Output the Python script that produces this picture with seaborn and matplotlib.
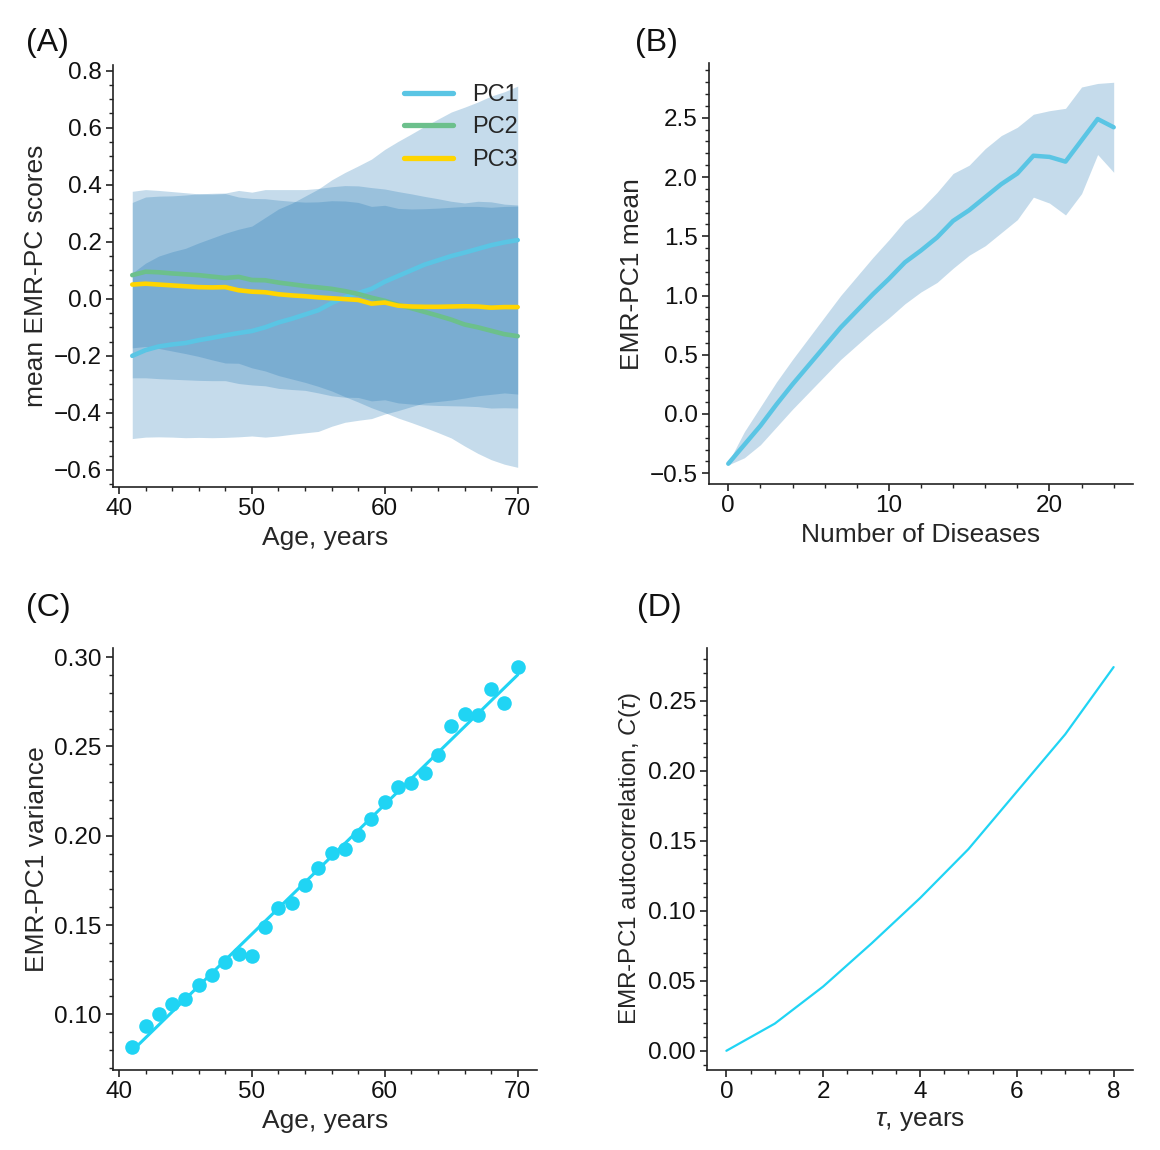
import numpy as np
import pandas as pd
import matplotlib
matplotlib.use("Agg")
import matplotlib.pyplot as plt
import seaborn as sns
from matplotlib.ticker import AutoMinorLocator, MultipleLocator

# ---- data ----
ages = list(range(41, 71))

pc1_mean = [-0.200, -0.180, -0.167, -0.160, -0.155, -0.145, -0.137, -0.128, -0.120, -0.113,
            -0.100, -0.083, -0.070, -0.055, -0.040, -0.015, 0.005, 0.020, 0.035, 0.060,
            0.080, 0.100, 0.120, 0.135, 0.150, 0.162, 0.175, 0.188, 0.198, 0.206]
pc1_sd = [0.290, 0.305, 0.317, 0.325, 0.332, 0.341, 0.350, 0.358, 0.364, 0.368,
          0.385, 0.398, 0.405, 0.415, 0.425, 0.432, 0.438, 0.446, 0.455, 0.464,
          0.472, 0.478, 0.485, 0.495, 0.505, 0.510, 0.515, 0.523, 0.528, 0.540]

pc2_mean = [0.083, 0.095, 0.093, 0.089, 0.086, 0.083, 0.078, 0.073, 0.077, 0.066,
            0.065, 0.057, 0.051, 0.045, 0.040, 0.035, 0.027, 0.017, 0.004, -0.007,
            -0.021, -0.033, -0.046, -0.059, -0.073, -0.090, -0.100, -0.112, -0.124, -0.131]
pc2_sd = [0.255, 0.262, 0.267, 0.272, 0.278, 0.285, 0.292, 0.298, 0.303, 0.308,
          0.318, 0.326, 0.332, 0.338, 0.347, 0.358, 0.370, 0.379, 0.386, 0.392,
          0.397, 0.401, 0.405, 0.410, 0.415, 0.426, 0.442, 0.452, 0.456, 0.460]

pc3_mean = [0.050, 0.053, 0.050, 0.047, 0.044, 0.041, 0.040, 0.041, 0.030, 0.025,
            0.023, 0.016, 0.012, 0.009, 0.005, 0.002, -0.001, -0.004, -0.017, -0.013,
            -0.024, -0.027, -0.028, -0.028, -0.027, -0.026, -0.027, -0.031, -0.029, -0.029]
pc3_sd = [0.327, 0.330, 0.330, 0.329, 0.328, 0.327, 0.327, 0.328, 0.327, 0.327,
          0.328, 0.330, 0.330, 0.330, 0.335, 0.342, 0.344, 0.342, 0.341, 0.341,
          0.341, 0.342, 0.344, 0.346, 0.348, 0.350, 0.351, 0.352, 0.353, 0.354]

n_diseases = list(range(0, 25))
pc1_by_disease = [-0.42, -0.26, -0.10, 0.08, 0.25, 0.41, 0.57, 0.73, 0.87, 1.01,
                  1.14, 1.28, 1.38, 1.49, 1.63, 1.72, 1.83, 1.94, 2.03, 2.18,
                  2.17, 2.13, 2.31, 2.49, 2.42]
pc1_by_disease_sd = [0.01, 0.11, 0.16, 0.19, 0.21, 0.23, 0.25, 0.27, 0.29, 0.31,
                     0.33, 0.35, 0.35, 0.38, 0.40, 0.38, 0.41, 0.41, 0.39, 0.35,
                     0.39, 0.45, 0.45, 0.30, 0.38]

pc1_var = [0.0816, 0.0936, 0.1002, 0.1056, 0.1086, 0.1166, 0.1220, 0.1291, 0.1337, 0.1327,
           0.1491, 0.1597, 0.1623, 0.1725, 0.1818, 0.1904, 0.1924, 0.2004, 0.2092, 0.2188,
           0.2273, 0.2293, 0.2353, 0.2453, 0.2613, 0.2679, 0.2675, 0.2820, 0.2743, 0.2944]

tau = [0, 1, 2, 3, 4, 5, 6, 7, 8]
autocorr = [0.0, 0.0194, 0.0459, 0.0767, 0.109, 0.144, 0.185, 0.226, 0.274]

# ---- style ----
sns.set_theme(style="ticks")
plt.rcParams["font.family"] = ["Liberation Sans", "DejaVu Sans"]
plt.rcParams["mathtext.fontset"] = "custom"
plt.rcParams["mathtext.rm"] = "Liberation Sans"
plt.rcParams["mathtext.it"] = "Liberation Sans:italic"
plt.rcParams["axes.linewidth"] = 1.2
plt.rcParams["axes.edgecolor"] = "#222222"

band_col = "#1f77b4"
band_alpha = 0.26
pc_colors = {"PC1": "#5ac5e4", "PC2": "#6cc08c", "PC3": "#ffd500"}
cyan = "#20d4f4"
tick_fs = 17.5
label_fs = 19

fig = plt.figure(figsize=(11.6, 11.5), dpi=100)
axA = fig.add_axes([0.0974, 0.5765, 0.3655, 0.367])
axB = fig.add_axes([0.6112, 0.5791, 0.3655, 0.366])
axC = fig.add_axes([0.0974, 0.0696, 0.3655, 0.367])
axD = fig.add_axes([0.6095, 0.0696, 0.3672, 0.367])

# (A) mean PC scores with +-sd bands
for m, s in [(pc1_mean, pc1_sd), (pc2_mean, pc2_sd), (pc3_mean, pc3_sd)]:
    m = np.array(m)
    s = np.array(s)
    axA.fill_between(ages, m - s, m + s, color=band_col, alpha=band_alpha, lw=0)

dfA = pd.DataFrame({
    "age": ages * 3,
    "score": pc1_mean + pc2_mean + pc3_mean,
    "pc": ["PC1"] * 30 + ["PC2"] * 30 + ["PC3"] * 30,
})
sns.lineplot(data=dfA, x="age", y="score", hue="pc", palette=pc_colors,
             lw=3.3, ax=axA)
leg = axA.legend(frameon=False, loc="upper right", fontsize=17, handlelength=2.1,
                 labelspacing=0.45, borderaxespad=0.4, handletextpad=0.8)
for h in leg.get_lines():
    h.set_linewidth(3.8)
axA.set_xlabel("Age, years", fontsize=label_fs)
axA.set_ylabel("mean EMR-PC scores", fontsize=label_fs)
axA.xaxis.set_major_locator(MultipleLocator(10))
axA.yaxis.set_major_locator(MultipleLocator(0.2))
axA.set_ylim(-0.66, 0.82)

# (B) PC1 vs number of diseases
bm = np.array(pc1_by_disease)
bs = np.array(pc1_by_disease_sd)
axB.fill_between(n_diseases, bm - bs, bm + bs, color=band_col, alpha=band_alpha, lw=0)
sns.lineplot(x=n_diseases, y=pc1_by_disease, color=pc_colors["PC1"], lw=3.2, ax=axB)
axB.set_xlabel("Number of Diseases", fontsize=label_fs)
axB.set_ylabel("EMR-PC1 mean", fontsize=label_fs)
axB.xaxis.set_major_locator(MultipleLocator(10))
axB.yaxis.set_major_locator(MultipleLocator(0.5))

# (C) PC1 variance with linear fit
sns.regplot(x=ages, y=pc1_var, ci=None, color=cyan, ax=axC,
            scatter_kws={"s": 110, "alpha": 1, "linewidths": 0},
            line_kws={"lw": 2.2})
axC.set_xlabel("Age, years", fontsize=label_fs)
axC.set_ylabel("EMR-PC1 variance", fontsize=label_fs)
axC.xaxis.set_major_locator(MultipleLocator(10))
axC.yaxis.set_major_locator(MultipleLocator(0.05))

# (D) autocorrelation
sns.lineplot(x=tau, y=autocorr, color=cyan, lw=1.6, ax=axD)
axD.set_xlabel(r"$\tau$, years", fontsize=label_fs)
axD.set_ylabel(r"EMR-PC1 autocorrelation, $C(\tau)$", fontsize=17.5)
axD.xaxis.set_major_locator(MultipleLocator(2))
axD.yaxis.set_major_locator(MultipleLocator(0.05))

for ax in [axA, axB, axC, axD]:
    sns.despine(ax=ax)
    ax.xaxis.set_minor_locator(AutoMinorLocator())
    ax.yaxis.set_minor_locator(AutoMinorLocator())
    ax.tick_params(which="major", direction="out", length=5, width=1.2,
                   labelsize=tick_fs, colors="#222222", pad=3)
    ax.tick_params(which="minor", direction="out", length=3, width=1.0,
                   colors="#222222")
    ax.tick_params(labelcolor="#111111")

for lab, x, y in [("(A)", 0.022, 0.963), ("(B)", 0.547, 0.963),
                  ("(C)", 0.022, 0.471), ("(D)", 0.549, 0.471)]:
    fig.text(x, y, lab, fontsize=23, ha="left", va="center", color="#111111")

fig.savefig("out.png", dpi=100, facecolor="white")
